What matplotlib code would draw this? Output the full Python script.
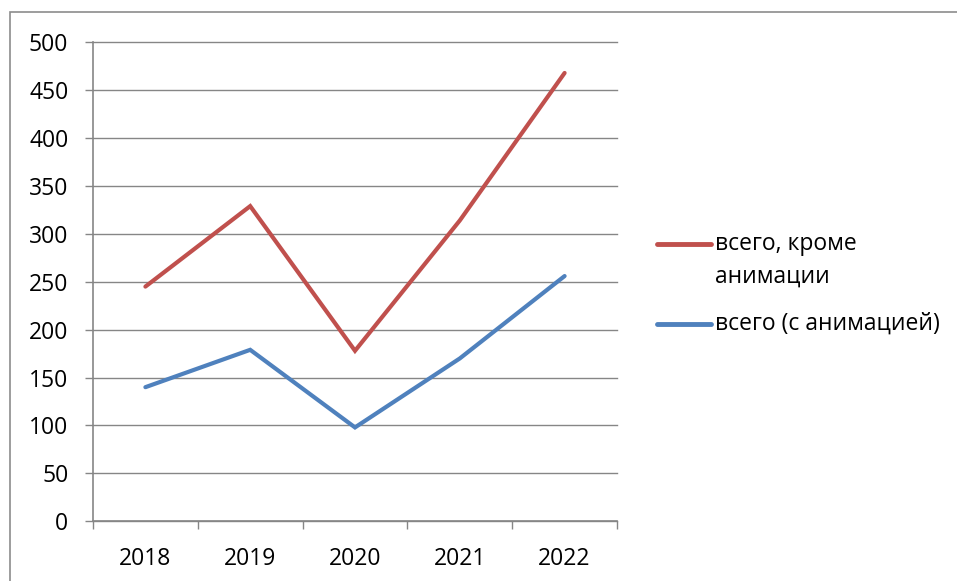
import matplotlib.pyplot as plt
from matplotlib.patches import Rectangle
from matplotlib.lines import Line2D

years = ['2018', '2019', '2020', '2021', '2022']
no_anim = [245, 329, 178, 314, 468]
with_anim = [140, 179, 98, 170, 256]
yticks = [0, 50, 100, 150, 200, 250, 300, 350, 400, 450, 500]
lab_red = ['всего, кроме', 'анимации']
lab_blue = 'всего (с анимацией)'
c_red = '#C0504D'
c_blue = '#4F81BD'

plt.rcParams['font.family'] = ['Open Sans', 'DejaVu Sans']
fs = 16.5
W, H = 957, 581

fig = plt.figure(figsize=(W/100, H/100), dpi=100)
# outer chart border (cut at right/bottom like the screenshot)
fig.patches.append(Rectangle((10/W, -0.1), 1.2, (H-12)/H + 0.1, transform=fig.transFigure,
                             fill=False, edgecolor='#8c8c8c', lw=1.2))

ax = fig.add_axes([93/W, (H-521.3)/H, (617-93)/W, 479/H])
x = list(range(len(years)))
ax.plot(x, no_anim, color=c_red, lw=3, solid_capstyle='round', solid_joinstyle='miter')
ax.plot(x, with_anim, color=c_blue, lw=3, solid_capstyle='round', solid_joinstyle='miter')

ax.set_xlim(-0.5, 4.5)
ax.set_ylim(0, 500)
ax.set_yticks(yticks)
ax.yaxis.grid(True, color='#868686', lw=1.0)
ax.set_axisbelow(True)
for gl in ax.yaxis.get_gridlines():
    gl.set_clip_on(False)

ax.set_xticks([i - 0.5 for i in range(len(years) + 1)])
ax.set_xticklabels([])
ax.set_xticks(x, minor=True)
ax.set_xticklabels(years, minor=True, fontsize=fs)
ax.tick_params(axis='x', which='major', length=6, width=1, color='#868686', direction='out')
ax.tick_params(axis='x', which='minor', length=0, pad=18.5)
ax.tick_params(axis='y', length=5.8, width=1, color='#868686', labelsize=fs, pad=12)

for s in ['top', 'right']:
    ax.spines[s].set_visible(False)
for s in ['left', 'bottom']:
    ax.spines[s].set_color('#868686')
    ax.spines[s].set_linewidth(1.2)

# legend drawn by hand so the red key sits on the first text line
def fy(py):
    return (H - py) / H

for px0, px1, py, col in [(657, 711, 244, c_red), (657, 711, 324, c_blue)]:
    fig.add_artist(Line2D([px0/W, px1/W], [fy(py), fy(py)], transform=fig.transFigure,
                          color=col, lw=3.5, solid_capstyle='round'))
fig.text(715/W, fy(244), lab_red[0], fontsize=fs, va='center', ha='left')
fig.text(715/W, fy(277), lab_red[1], fontsize=fs, va='center', ha='left')
fig.text(715/W, fy(324), lab_blue, fontsize=fs, va='center', ha='left')

fig.savefig('out.png', dpi=100)
